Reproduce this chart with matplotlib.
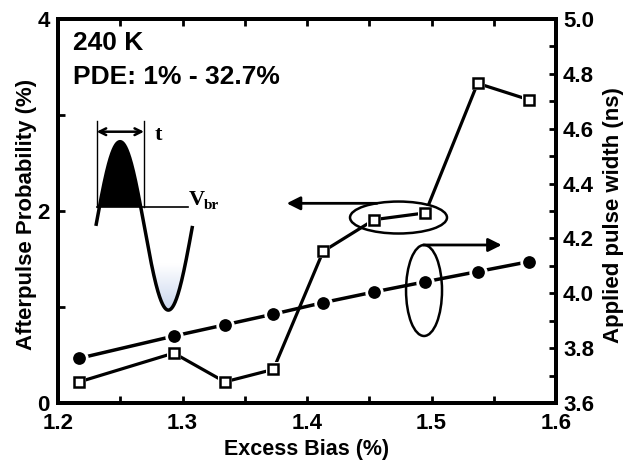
import numpy as np
import matplotlib
matplotlib.use('Agg')
import matplotlib.pyplot as plt
from matplotlib.patches import Ellipse, Polygon
from matplotlib.ticker import MultipleLocator, FormatStrFormatter, FixedLocator
from matplotlib.colors import LinearSegmentedColormap

# ---------------- data ----------------
excess_bias = [1.217, 1.293, 1.334, 1.373, 1.413, 1.454, 1.495, 1.537, 1.578]
afterpulse_prob = [0.22, 0.52, 0.22, 0.35, 1.58, 1.91, 1.98, 3.33, 3.16]
pulse_width = [3.763, 3.844, 3.885, 3.924, 3.966, 4.005, 4.042, 4.079, 4.115]

x_label = "Excess Bias (%)"
y_left_label = "Afterpulse Probability (%)"
y_right_label = "Applied pulse width (ns)"
title_lines = ["240 K", "PDE: 1% - 32.7%"]

plt.rcParams['font.family'] = ['Liberation Sans', 'DejaVu Sans']
plt.rcParams['font.weight'] = 'bold'

fig = plt.figure(figsize=(6.26, 4.62), dpi=100)
ax = fig.add_axes([58/626, 59/462, 498/626, 384/462])
ax2 = ax.twinx()

# afterpulse (left axis) : open squares
ax.plot(excess_bias, afterpulse_prob, '-', color='k', lw=2.3, zorder=3)
ax.plot(excess_bias, afterpulse_prob, 's', ms=10, mfc='white', mec='white', mew=0, zorder=4)
ax.plot(excess_bias, afterpulse_prob, 's', ms=6.6, mfc='white', mec='k', mew=1.8, zorder=5)

# pulse width (right axis) : filled circles
ax2.plot(excess_bias, pulse_width, '-', color='k', lw=2.5, zorder=3)
ax2.plot(excess_bias, pulse_width, 'o', ms=11.2, mfc='k', mec='white', mew=2.0, zorder=4)

# ---------------- axes ----------------
ax.set_xlim(1.2, 1.6)
ax.set_ylim(0, 4)
ax2.set_ylim(3.6, 5.0)

ax.xaxis.set_major_locator(MultipleLocator(0.1))
ax.xaxis.set_minor_locator(MultipleLocator(0.05))
ax.xaxis.set_major_formatter(FormatStrFormatter('%.1f'))
ax.yaxis.set_major_locator(FixedLocator([0, 2, 4]))
ax.yaxis.set_minor_locator(FixedLocator([1, 3]))
ax2.yaxis.set_major_locator(MultipleLocator(0.2))
ax2.yaxis.set_minor_locator(MultipleLocator(0.1))
ax2.yaxis.set_major_formatter(FormatStrFormatter('%.1f'))

for a in (ax, ax2):
    for s in a.spines.values():
        s.set_linewidth(2.8)

ax.tick_params(axis='x', which='both', direction='in', top=True, bottom=True,
               width=2, length=5, labelsize=16, pad=7)
ax.tick_params(axis='y', which='both', direction='in', width=2, length=5,
               labelsize=16, pad=6)
ax2.tick_params(axis='y', which='both', direction='in', width=2, length=5,
                labelsize=16, pad=5)

ax.set_xlabel(x_label, fontsize=15.5, fontweight='bold')
ax.set_ylabel(y_left_label, fontsize=16, fontweight='bold')
ax2.set_ylabel(y_right_label, fontsize=16, fontweight='bold')
ax.xaxis.set_label_coords(0.5, -0.093)
ax.yaxis.set_label_coords(-0.043, 0.49)
ax2.yaxis.set_label_coords(1.095, 0.49)

# ---------------- text ----------------
ax.text(0.0295, 0.938, title_lines[0], transform=ax.transAxes, fontsize=19,
        fontweight='bold', va='center', ha='left')
ax.text(0.0295, 0.850, title_lines[1], transform=ax.transAxes, fontsize=19,
        fontweight='bold', va='center', ha='left')

# ---------------- pulse sketch (axes fraction) ----------------
T = ax.transAxes
x0, x1, yc, A = 0.0761, 0.2701, 0.4612, 0.2193
vbr = 0.5105
tt = np.linspace(0, 2*np.pi, 400)
cx = x0 + (x1 - x0) * tt / (2*np.pi)
cy = yc + A * np.sin(tt)

# gradient in the lower lobe
lobe = (tt >= np.pi * 0.95)
lobe_pts = np.column_stack([cx[lobe], cy[lobe]])
lobe_poly = Polygon(lobe_pts, closed=True, transform=T, facecolor='none', edgecolor='none')
ax.add_patch(lobe_poly)
grad = np.linspace(0, 1, 256).reshape(-1, 1)
cmap = LinearSegmentedColormap.from_list('g', ['#ffffff', '#ffffff', '#c9d6ee'])
im = ax.imshow(grad, extent=[x0 + 0.05, x1, yc - A, yc + 0.02], transform=T,
               cmap=cmap, aspect='auto', origin='upper', zorder=1)
im.set_clip_path(lobe_poly)

# black filled part above Vbr
s = (vbr - yc) / A
t1 = np.arcsin(s)
tb = np.linspace(t1, np.pi - t1, 200)
bx = x0 + (x1 - x0) * tb / (2*np.pi)
by = yc + A * np.sin(tb)
ax.add_patch(Polygon(np.column_stack([bx, by]), closed=True, transform=T,
                     facecolor='k', edgecolor='none', zorder=2))
ax.plot(cx, cy, color='k', lw=2.5, transform=T, zorder=2.5, solid_capstyle='butt')

# width markers
vl, vr, vtop = 0.0777, 0.1727, 0.7352
ax.plot([vl, vl], [vbr, vtop], color='k', lw=1.0, transform=T, zorder=2.5)
ax.plot([vr, vr], [vbr, vtop], color='k', lw=1.0, transform=T, zorder=2.5)
ax.plot([vl, 0.261], [vbr, vbr], color='k', lw=1.2, transform=T, zorder=2.5)
ax.annotate('', xy=(vl, 0.7065), xytext=(vr, 0.7065), xycoords='axes fraction',
            textcoords='axes fraction',
            arrowprops=dict(arrowstyle='<->', lw=1.8, color='k', shrinkA=0, shrinkB=0,
                            mutation_scale=12))
serif = ['Liberation Serif', 'DejaVu Serif']
ax.text(0.1948, 0.685, 't', transform=T, fontsize=16, fontweight='bold',
        family=serif, ha='left', va='baseline')
ax.text(0.2617, 0.5156, 'V', transform=T, fontsize=16, fontweight='bold',
        family=serif, ha='left', va='baseline')
ax.text(0.2935, 0.505, 'br', transform=T, fontsize=11, fontweight='bold',
        family=serif, ha='left', va='baseline')

# ---------------- ellipses & arrows (left-axis data coords) ----------------
ax.add_patch(Ellipse((1.4735, 1.932), 0.0779, 0.333, fill=False, lw=1.8,
                     edgecolor='k', zorder=6))
ax.add_patch(Ellipse((1.494, 1.172), 0.0289, 0.948, fill=False, lw=1.8,
                     edgecolor='k', zorder=6))
ax.annotate('', xy=(1.3837, 2.08), xytext=(1.4562, 2.08), xycoords='data',
            arrowprops=dict(arrowstyle='-|>', lw=2.0, color='k', shrinkA=0, shrinkB=0,
                            mutation_scale=20))
ax.annotate('', xy=(1.5564, 1.646), xytext=(1.4934, 1.646), xycoords='data',
            arrowprops=dict(arrowstyle='-|>', lw=2.0, color='k', shrinkA=0, shrinkB=0,
                            mutation_scale=20))

ax.set_xlim(1.2, 1.6)
ax.set_ylim(0, 4)
ax.set_zorder(ax2.get_zorder() + 1)
ax.patch.set_visible(False)

fig.savefig('out.png', dpi=100)
